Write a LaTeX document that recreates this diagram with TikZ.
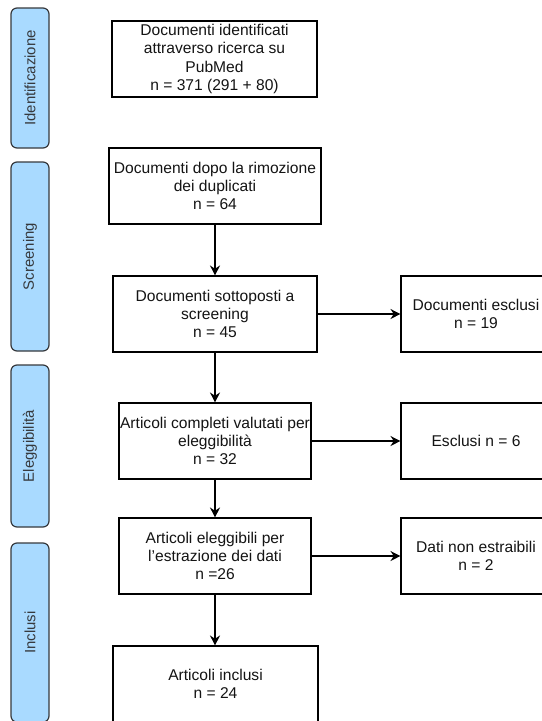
\documentclass[tikz,border=0pt]{standalone}
\usepackage{fontspec}
\setmainfont{Liberation Sans}
\usetikzlibrary{arrows.meta}
\definecolor{lane}{RGB}{169,218,255}
\definecolor{laneborder}{RGB}{54,57,61}
\definecolor{txt}{RGB}{20,20,20}
\begin{document}
\begin{tikzpicture}[x=0.75pt,y=-0.75pt,
  box/.style={draw=black, line width=0.8pt, fill=white, align=center, inner sep=0pt,
    minimum height=57pt, font=\fontsize{11.7}{13.8}\selectfont, text=txt},
  lanebox/.style={draw=laneborder, fill=lane, line width=0.9pt, rounded corners=4.5pt,
    rotate=90, minimum height=28.5pt, inner sep=0pt, font=\fontsize{11.2}{13}\selectfont, text=laneborder},
  arr/.style={-{Stealth[length=7.5pt,width=7.5pt,inset=2.5pt]}, line width=0.8pt}
]
\useasboundingbox (0,0) rectangle (542,721);
\fill[white] (0,0) rectangle (542,721);
\clip (0,0) rectangle (542,721);

% lanes
\node[lanebox, minimum width=105pt] (l1) at (30,78) {Identificazione};
\node[lanebox, minimum width=141.75pt] (l2) at (30,256.5) {Screening};
\node[lanebox, minimum width=121.5pt] (l3) at (30,446) {Eleggibilità};
\node[lanebox, minimum width=134.25pt] (l4) at (30,632.5) {Inclusi};

% main boxes
\node[box, minimum width=153.75pt] (b1) at (214.5,59) {Documenti identificati\\attraverso ricerca su\\PubMed\\n = 371 (291 + 80)};
\node[box, minimum width=159pt] (b2) at (215,186) {Documenti dopo la rimozione\\dei duplicati\\n = 64};
\node[box, minimum width=153pt] (b3) at (215,314) {Documenti sottoposti a\\screening\\n = 45};
\node[box, minimum width=144pt] (b4) at (215,441) {Articoli completi valutati per\\eleggibilità\\n = 32};
\node[box, minimum width=144pt] (b5) at (215,556) {Articoli eleggibili per\\l’estrazione dei dati\\n =26};
\node[box, minimum width=153.75pt] (b6) at (215.5,684) {Articoli inclusi\\n = 24};

% right boxes
\node[box, minimum width=112.5pt] (r1) at (476,314) {Documenti esclusi\\n = 19};
\node[box, minimum width=112.5pt] (r2) at (476,441) {Esclusi n = 6};
\node[box, minimum width=112.5pt] (r3) at (476,556) {Dati non estraibili\\n = 2};

% arrows
\draw[arr] (b2.south) -- (b3.north);
\draw[arr] (b3.south) -- (b4.north);
\draw[arr] (b4.south) -- (b5.north);
\draw[arr] (b5.south) -- (b5.south |- b6.north);
\draw[arr] (b3.east) -- (r1.west);
\draw[arr] (b4.east) -- (r2.west);
\draw[arr] (b5.east) -- (r3.west);
\end{tikzpicture}
\end{document}
